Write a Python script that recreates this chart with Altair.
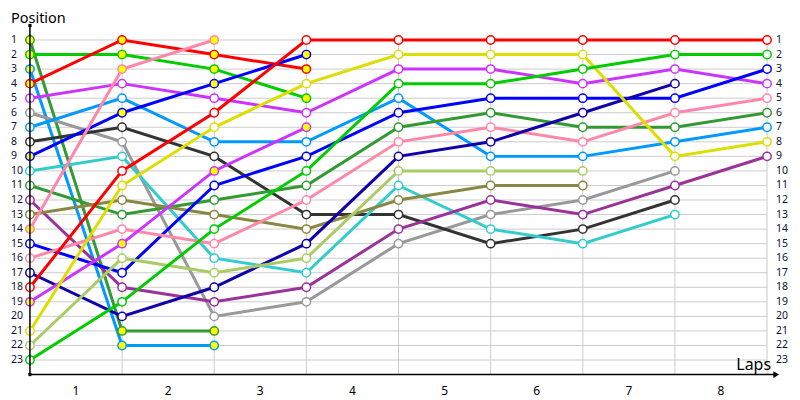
import altair as alt
import pandas as pd

# ---- data ----
laps = [0, 1, 2, 3, 4, 5, 6, 7, 8]
positions = list(range(1, 24))
lap_labels = [1, 2, 3, 4, 5, 6, 7, 8]

# each series: starting grid position, then position after each lap
s_a = [1, 21, 21]
s_b = [2, 2, 3, 5]
s_c = [3, 22, 22]
s_d = [4, 1, 2, 3]
s_e = [5, 4, 5, 6, 3, 3, 4, 3, 4]
s_f = [6, 8, 20, 19, 15, 13, 12, 10]
s_g = [7, 5, 8, 8, 5, 9, 9, 8, 7]
s_h = [8, 7, 9, 13, 13, 15, 14, 12]
s_i = [9, 6, 4, 2]
s_j = [10, 9, 16, 17, 11, 14, 15, 13]
s_k = [11, 13, 12, 11, 7, 6, 7, 7, 6]
s_l = [12, 18, 19, 18, 14, 12, 13, 11, 9]
s_m = [13, 12, 13, 14, 12, 11, 11]
s_n = [14, 3, 1]
s_o = [15, 17, 11, 9, 6, 5, 5, 5, 3]
s_p = [16, 14, 15, 12, 8, 7, 8, 6, 5]
s_q = [17, 20, 18, 15, 9, 8, 6, 4]
s_r = [18, 10, 6, 1, 1, 1, 1, 1, 1]
s_s = [19, 15, 10, 7]
s_t = [21, 11, 7, 4, 2, 2, 2, 9, 8]
s_u = [22, 16, 17, 16, 10, 10, 10]
s_v = [23, 19, 14, 10, 4, 4, 3, 2, 2]

series = [s_a, s_b, s_c, s_d, s_e, s_f, s_g, s_h, s_i, s_j, s_k,
          s_l, s_m, s_n, s_o, s_p, s_q, s_r, s_s, s_t, s_u, s_v]
series_filled = [True, True, True, True, False, False, False, False, True, False, False,
                 False, False, True, False, False, False, False, True, False, False, False]

# ---- styles ----
series_colors = ["#339933", "#00CC00", "#0099FF", "#FF0000", "#CC33FF", "#999999",
                 "#0099FF", "#333333", "#0000FF", "#33CCCC", "#339933", "#993399",
                 "#888844", "#FF88AA", "#0000FF", "#FF88AA", "#1100AA", "#FF0000",
                 "#CC33FF", "#DDDD00", "#AACC66", "#00CC00"]

rows = []
ids = []
for i, (vals, f) in enumerate(zip(series, series_filled)):
    did = f"d{i:02d}"
    ids.append(did)
    for lap, p in enumerate(vals):
        rows.append({"driver": did, "lap": lap, "pos": p, "filled": "yes" if f else "no"})
df = pd.DataFrame(rows)

W, H = 739, 350
FONT = "Noto Sans"

xs = alt.Scale(domain=[0, 8], nice=False, zero=False)
ys = alt.Scale(domain=[0, 24], nice=False, zero=False, reverse=True)
cs = alt.Scale(domain=ids, range=series_colors)

# gridlines
hgrid_df = pd.DataFrame({"pos": positions, "x0": 0, "x1": 8})
hgrid = alt.Chart(hgrid_df).mark_rule(color="#CCCCCC", strokeWidth=1).encode(
    y=alt.Y("pos:Q", scale=ys, axis=None),
    x=alt.X("x0:Q", scale=xs, axis=None),
    x2="x1:Q",
)
vgrid_df = pd.DataFrame({"lap": laps[1:], "y0": 1, "y1": 24})
vgrid = alt.Chart(vgrid_df).mark_rule(color="#CCCCCC", strokeWidth=1).encode(
    x=alt.X("lap:Q", scale=xs, axis=None),
    y=alt.Y("y0:Q", scale=ys, axis=None),
    y2="y1:Q",
)

# axis lines
yaxis_df = pd.DataFrame({"x": [0], "y0": [0], "y1": [24]})
yaxis = alt.Chart(yaxis_df).mark_rule(color="black", strokeWidth=1.5).encode(
    x=alt.X("x:Q", scale=xs, axis=None),
    y=alt.Y("y0:Q", scale=ys, axis=None),
    y2="y1:Q",
)
xaxis_df = pd.DataFrame({"y": [24], "x0": [0], "x1": [8.1]})
xaxis = alt.Chart(xaxis_df).mark_rule(color="black", strokeWidth=1.5).encode(
    y=alt.Y("y:Q", scale=ys, axis=None),
    x=alt.X("x0:Q", scale=xs, axis=None),
    x2="x1:Q",
)
arrow_df = pd.DataFrame({"x": [8.1], "y": [24]})
arrow = alt.Chart(arrow_df).mark_point(shape="triangle-right", filled=True, color="black",
                                        size=45, opacity=1).encode(
    x=alt.X("x:Q", scale=xs, axis=None),
    y=alt.Y("y:Q", scale=ys, axis=None),
)
dots_df = pd.DataFrame({"x": [0, 0], "y": [0, 24]})
dots = alt.Chart(dots_df).mark_point(shape="square", filled=True, color="black",
                                      size=10, opacity=1).encode(
    x=alt.X("x:Q", scale=xs, axis=None),
    y=alt.Y("y:Q", scale=ys, axis=None),
)

# series lines and markers
lines = alt.Chart(df).mark_line(strokeWidth=3).encode(
    x=alt.X("lap:Q", scale=xs, axis=None),
    y=alt.Y("pos:Q", scale=ys, axis=None),
    color=alt.Color("driver:N", scale=cs, legend=None),
    order="lap:Q",
)
points = alt.Chart(df).mark_point(shape="circle", filled=True, size=70,
                                   strokeWidth=1.5, opacity=1).encode(
    x=alt.X("lap:Q", scale=xs, axis=None),
    y=alt.Y("pos:Q", scale=ys, axis=None),
    stroke=alt.Stroke("driver:N", scale=cs, legend=None),
    fill=alt.Fill("filled:N", scale=alt.Scale(domain=["yes", "no"], range=["#FFFF00", "#FFFFFF"]),
                  legend=None),
)

# tick labels
pos_df = pd.DataFrame({"pos": positions})
left_labels = alt.Chart(pos_df).mark_text(align="left", baseline="middle", fontSize=10.5,
                                          font=FONT, color="#111133").encode(
    y=alt.Y("pos:Q", scale=ys, axis=None),
    x=alt.value(-19),
    text="pos:Q",
)
right_labels = alt.Chart(pos_df).mark_text(align="left", baseline="middle", fontSize=10.5,
                                           font=FONT, color="#111133").encode(
    y=alt.Y("pos:Q", scale=ys, axis=None),
    x=alt.value(748),
    text="pos:Q",
)
lap_df = pd.DataFrame({"label": lap_labels, "mid": [l - 0.5 for l in lap_labels]})
lap_text = alt.Chart(lap_df).mark_text(align="center", baseline="middle", fontSize=12,
                                       font=FONT, color="black").encode(
    x=alt.X("mid:Q", scale=xs, axis=None),
    y=alt.value(366),
    text="label:Q",
)

title_df = pd.DataFrame({"t": ["Position"]})
ytitle = alt.Chart(title_df).mark_text(align="left", baseline="alphabetic", fontSize=14.5,
                                       font=FONT, color="black").encode(
    x=alt.value(-19), y=alt.value(-2), text="t:N")
xtitle_df = pd.DataFrame({"t": ["Laps"]})
xtitle = alt.Chart(xtitle_df).mark_text(align="right", baseline="alphabetic", fontSize=16,
                                        font=FONT, color="black").encode(
    x=alt.value(743), y=alt.value(345), text="t:N")

chart = alt.layer(
    hgrid, vgrid, lines, points, yaxis, xaxis, arrow, dots,
    left_labels, right_labels, lap_text, ytitle, xtitle,
).properties(
    width=W, height=H,
    padding={"left": 22, "top": 17, "right": 25, "bottom": 25},
    autosize=alt.AutoSizeParams(type="none"),
    background="white",
).configure_view(stroke=None)

chart.save("out.html", embed_options={"renderer": "svg", "actions": False})
